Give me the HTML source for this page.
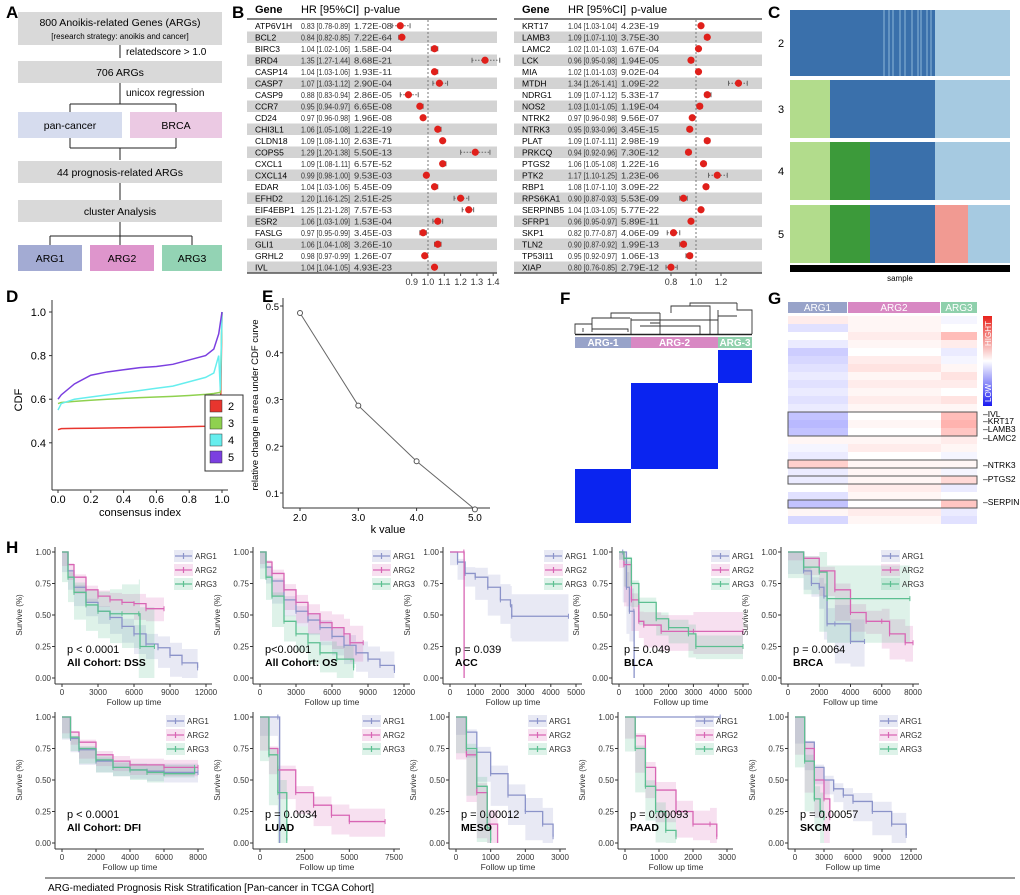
<!DOCTYPE html>
<html><head><meta charset="utf-8"><style>
html,body{margin:0;padding:0;background:#fff;}
svg{display:block;font-family:"Liberation Sans",sans-serif;}
</style></head><body>
<svg id="fig" width="1020" height="895" viewBox="0 0 1020 895" xmlns="http://www.w3.org/2000/svg">
<rect x="0" y="0" width="1020" height="895" fill="#fff"/>
<g font-weight="bold" font-size="17">
<text x="6" y="18">A</text>
<text x="232" y="18">B</text>
<text x="768" y="18">C</text>
<text x="6" y="302">D</text>
<text x="262" y="302">E</text>
<text x="560" y="304">F</text>
<text x="768" y="304">G</text>
<text x="6" y="553">H</text>
</g>
<g id="panelA" font-size="10.5" text-anchor="middle">
<rect x="18" y="12" width="204" height="33" fill="#d9d9d9"/>
<text x="120" y="26">800 Anoikis-related Genes (ARGs)</text>
<text x="120" y="39" font-size="8">[research strategy: anoikis and cancer]</text>
<line x1="120" y1="45" x2="120" y2="58" stroke="#222"/>
<text x="126" y="55" text-anchor="start" font-size="10">relatedscore &gt; 1.0</text>
<rect x="18" y="61" width="204" height="22" fill="#d9d9d9"/>
<text x="120" y="76">706 ARGs</text>
<path d="M120 83V104M70 104H176M70 104V112M176 104V112" stroke="#222" fill="none"/>
<text x="126" y="96" text-anchor="start" font-size="10">unicox regression</text>
<rect x="18" y="112" width="104" height="26" fill="#d6dcee"/>
<text x="70" y="129">pan-cancer</text>
<rect x="130" y="112" width="92" height="26" fill="#ebc9e3"/>
<text x="176" y="129">BRCA</text>
<path d="M70 138V148M176 138V148M70 148H176M120 148V160" stroke="#222" fill="none"/>
<rect x="18" y="161" width="204" height="22" fill="#d9d9d9"/>
<text x="120" y="176">44 prognosis-related ARGs</text>
<line x1="120" y1="183" x2="120" y2="200" stroke="#222"/>
<rect x="18" y="200" width="204" height="22" fill="#d9d9d9"/>
<text x="120" y="215">cluster Analysis</text>
<path d="M120 222V236M50 236H192M50 236V245M120 236V245M192 236V245" stroke="#222" fill="none"/>
<rect x="18" y="245" width="64" height="26" fill="#a3abd3"/>
<text x="50" y="262">ARG1</text>
<rect x="90" y="245" width="64" height="26" fill="#de95cc"/>
<text x="122" y="262">ARG2</text>
<rect x="162" y="245" width="60" height="26" fill="#93d3b4"/>
<text x="192" y="262">ARG3</text>
</g>
<g id="gB"></g>
<g id="gC"></g>
<g id="gD"></g>
<g id="gE"></g>
<g id="gF"></g>
<g id="gG"></g>
<g id="gH"></g>
<line x1="45" y1="878" x2="1015" y2="878" stroke="#333"/>
<text x="48" y="891" font-size="10">ARG-mediated Prognosis Risk Stratification [Pan-cancer in TCGA Cohort]</text>
</svg>
<script>
// ---------- Panel B data ----------
const genesL=["ATP6V1H","BCL2","BIRC3","BRD4","CASP14","CASP7","CASP9","CCR7","CD24","CHI3L1","CLDN18","COPS5","CXCL1","CXCL14","EDAR","EFHD2","EIF4EBP1","ESR2","FASLG","GLI1","GRHL2","IVL"];
const hrL=[0.83,0.84,1.04,1.35,1.04,1.07,0.88,0.95,0.97,1.06,1.09,1.29,1.09,0.99,1.04,1.20,1.25,1.06,0.97,1.06,0.98,1.04];
const loL=[0.78,0.82,1.02,1.27,1.03,1.03,0.83,0.94,0.96,1.05,1.08,1.20,1.08,0.98,1.03,1.16,1.21,1.03,0.95,1.04,0.97,1.04];
const hiL=[0.89,0.85,1.06,1.44,1.06,1.12,0.94,0.97,0.98,1.08,1.10,1.38,1.11,1.00,1.06,1.25,1.28,1.09,0.99,1.08,0.99,1.05];
const pL=["1.72E-08","7.22E-64","1.58E-04","8.68E-21","1.93E-11","2.90E-04","2.86E-05","6.65E-08","1.96E-08","1.22E-19","2.63E-71","5.50E-13","6.57E-52","9.53E-03","5.45E-09","2.51E-25","7.57E-53","1.53E-04","3.45E-03","3.26E-10","1.26E-07","4.93E-23"];
const genesR=["KRT17","LAMB3","LAMC2","LCK","MIA","MTDH","NDRG1","NOS2","NTRK2","NTRK3","PLAT","PRKCQ","PTGS2","PTK2","RBP1","RPS6KA1","SERPINB5","SFRP1","SKP1","TLN2","TP53I11","XIAP"];
const hrR=[1.04,1.09,1.02,0.96,1.02,1.34,1.09,1.03,0.97,0.95,1.09,0.94,1.06,1.17,1.08,0.90,1.04,0.96,0.82,0.90,0.95,0.80];
const loR=[1.03,1.07,1.01,0.95,1.01,1.26,1.07,1.01,0.96,0.93,1.07,0.92,1.05,1.10,1.07,0.87,1.03,0.95,0.77,0.87,0.92,0.76];
const hiR=[1.04,1.10,1.03,0.98,1.03,1.41,1.12,1.05,0.98,0.96,1.11,0.96,1.08,1.25,1.10,0.93,1.05,0.97,0.87,0.92,0.97,0.85];
const pR=["4.23E-19","3.75E-30","1.67E-04","1.94E-05","9.02E-04","1.09E-22","5.33E-17","1.19E-04","9.56E-07","3.45E-15","2.98E-19","7.30E-12","1.22E-16","1.23E-06","3.09E-22","5.53E-09","5.77E-22","5.89E-11","4.06E-09","1.99E-13","1.06E-13","2.79E-12"];
const ticksBL=[0.9,1.0,1.1,1.2,1.3,1.4];
const ticksBR=[0.8,1.0,1.2];
// ---------- Panel D/E data ----------
const cdfX=[0.0,0.02,0.1,0.2,0.3,0.4,0.5,0.6,0.7,0.8,0.9,0.95,0.98,0.99,1.0];
const cdfK2=[0.46,0.465,0.466,0.467,0.468,0.469,0.47,0.471,0.472,0.474,0.476,0.478,0.48,0.48,1.0];
const cdfK3=[0.58,0.585,0.59,0.595,0.6,0.604,0.607,0.61,0.613,0.617,0.622,0.626,0.63,0.63,1.0];
const cdfK4=[0.55,0.58,0.6,0.61,0.62,0.63,0.64,0.65,0.66,0.68,0.7,0.72,0.8,0.64,1.0];
const cdfK5=[0.6,0.62,0.67,0.71,0.725,0.735,0.745,0.75,0.76,0.78,0.8,0.83,0.9,0.95,1.0];
const kVals=[2,3,4,5];
const deltaArea=[0.485,0.287,0.168,0.065];
const cdfTicksY=[0.4,0.6,0.8,1.0];
const cdfTicksX=[0.0,0.2,0.4,0.6,0.8,1.0];
const eTicksY=[0.1,0.2,0.3,0.4,0.5];
const eTicksX=[2.0,3.0,4.0,5.0];
// ---------- Panel G data (row means per cluster) ----------
const heatRows=[[0.1,0.05,-0.05],[-0.15,0.05,0.0],[0.0,0.1,0.35],[-0.1,0.05,0.1],[-0.25,0.0,-0.1],[-0.2,0.1,-0.05],[-0.15,0.15,0.05],[-0.1,0.05,0.15],[-0.15,0.1,0.1],[-0.1,0.05,0.0],[-0.15,0.1,0.15],[-0.1,0.05,0.05],[-0.3,0.0,0.35],[-0.35,0.05,0.4],[-0.3,0.0,0.3],[0.05,0.05,0.1],[-0.05,0.1,0.05],[-0.1,0.0,-0.05],[0.25,0.05,0.05],[-0.1,0.05,-0.05],[-0.1,0.05,0.2],[0.0,0.1,-0.1],[-0.15,0.05,0.0],[-0.3,0.0,0.3],[0.05,0.1,-0.1],[-0.2,0.05,-0.15]];
// ---------- Panel H data ----------
const dssT1=[0,500,1000,2000,3000,4000,5000,6000,7000,8000,9000,10000,11300], dssS1=[1,0.85,0.72,0.6,0.53,0.48,0.41,0.35,0.27,0.24,0.18,0.12,0.08];
const dssT2=[0,500,1000,2000,3000,4000,5000,6000,7000,8500], dssS2=[1,0.9,0.8,0.7,0.65,0.62,0.6,0.59,0.55,0.55];
const dssT3=[0,500,1000,2000,3000,4000,5000,6400,6500,7700], dssS3=[1,0.8,0.68,0.58,0.53,0.51,0.51,0.51,0.25,0.25];
const osT1=[0,500,1000,2000,3000,4000,5000,6000,7000,8000,9000,10000,11200], osS1=[1,0.88,0.77,0.62,0.53,0.46,0.4,0.33,0.26,0.2,0.15,0.1,0.06];
const osT2=[0,500,1000,2000,3000,4000,5000,6000,7000,7500,8600], osS2=[1,0.92,0.83,0.7,0.6,0.51,0.44,0.4,0.35,0.28,0.28];
const osT3=[0,500,1000,2000,3000,4000,5000,6400,7800], osS3=[1,0.8,0.65,0.45,0.35,0.28,0.2,0.15,0.08];
const accT1=[0,300,600,1000,1500,2000,2400,2450,4700], accS1=[1,0.92,0.83,0.8,0.72,0.62,0.58,0.49,0.49];
const accT2=[0,550,560], accS2=[1,1,0];
const accT3=[], accS3=[];
const blcaT1=[0,150,300,420,600,610], blcaS1=[1,1,0.72,0.53,0.53,0];
const blcaT2=[0,200,500,800,1000,1700,3000,5000], blcaS2=[1,0.9,0.62,0.45,0.42,0.37,0.37,0.37];
const blcaT3=[0,200,500,800,1500,2000,2800,3100,5000], blcaS3=[1,0.95,0.75,0.6,0.47,0.4,0.35,0.25,0.25];
const brcaT1=[0,1000,1500,2000,2300,2500,3000,4000,4900], brcaS1=[1,0.85,0.75,0.72,0.65,0.43,0.43,0.29,0.29];
const brcaT2=[0,1000,2000,3000,4000,5000,6000,6500,7500,8000], brcaS2=[1,0.95,0.85,0.7,0.52,0.45,0.45,0.35,0.28,0.28];
const brcaT3=[0,1000,2000,2500,7800], brcaS3=[1,0.88,0.84,0.63,0.63];
const dfiT1=[0,500,1000,2000,3000,4000,5000,6000,8000], dfiS1=[1,0.83,0.74,0.65,0.6,0.58,0.57,0.56,0.56];
const dfiT2=[0,500,1000,2000,3000,4000,6000,8000], dfiS2=[1,0.88,0.8,0.7,0.65,0.62,0.6,0.6];
const dfiT3=[0,500,1000,2000,3000,4000,5000,6000,7800], dfiS3=[1,0.84,0.75,0.66,0.6,0.58,0.56,0.55,0.6];
const luadT1=[0,1000,1100], luadS1=[1,1,0];
const luadT2=[0,500,1000,2000,3000,4000,5000,7000], luadS2=[1,0.75,0.58,0.4,0.3,0.22,0.17,0.17];
const luadT3=[0,500,1000,1500], luadS3=[1,0.7,0.4,0.02];
const mesoT1=[0,300,600,1000,1500,2000,2500,2800], mesoS1=[1,0.88,0.72,0.55,0.38,0.25,0.15,0.05];
const mesoT2=[0,300,600,900,1200], mesoS2=[1,0.7,0.4,0.15,0];
const mesoT3=[0,300,600,900,1000], mesoS3=[1,0.75,0.45,0.12,0.02];
const paadT1=[0,2800], paadS1=[1,1];
const paadT2=[0,300,600,900,1500,2000,2500,2700], paadS2=[1,0.85,0.6,0.42,0.25,0.15,0.15,0.05];
const paadT3=[0,300,600,900,1200,1500], paadS3=[1,0.75,0.45,0.25,0.1,0.05];
const skcmT1=[0,1000,2000,3000,4000,5000,6000,8000,10000,11500], skcmS1=[1,0.8,0.6,0.5,0.43,0.38,0.33,0.25,0.15,0.06];
const skcmT2=[0,1000,2000,3000,3600], skcmS2=[1,0.75,0.5,0.35,0.2];
const skcmT3=[0,1000,2000,2600,3000], skcmS3=[1,0.65,0.35,0.25,0.2];
const pLabels=["p < 0.0001","p<0.0001","p = 0.039","p = 0.049","p = 0.0064","p < 0.0001","p = 0.0034","p = 0.00012","p = 0.00093","p = 0.00057"];
const cohortLabels=["All Cohort: DSS","All Cohort: OS","ACC","BLCA","BRCA","All Cohort: DFI","LUAD","MESO","PAAD","SKCM"];
const xTickSets=[[0,3000,6000,9000,12000],[0,3000,6000,9000,12000],[0,1000,2000,3000,4000,5000],[0,1000,2000,3000,4000,5000],[0,2000,4000,6000,8000],[0,2000,4000,6000,8000],[0,2500,5000,7500],[0,1000,2000,3000],[0,1000,2000,3000],[0,3000,6000,9000,12000]];
const survTicks=[0,0.25,0.5,0.75,1.0];
const survTickLabels=["0.00","0.25","0.50","0.75","1.00"];

const NS="http://www.w3.org/2000/svg";
function mk(parent,tag,attrs,txt){const e=document.createElementNS(NS,tag);for(const k in attrs)e.setAttribute(k,attrs[k]);if(txt!==undefined)e.textContent=txt;parent.appendChild(e);return e;}
function nm(e,name){


return e;}

// ---------- Panel B ----------
(function(){
const g=document.getElementById('gB');
function table(genes,hr,lo,hi,pv,ox,side,fx0,fx1,scale,ticks){
 const gx=ox, hx=ox+46, px=ox+99, rowH=11.5, y0=20;
 nm(mk(g,'text',{x:gx,y:13,'font-size':11,'font-weight':'bold'},'Gene'),'header-gene-'+side);
 nm(mk(g,'text',{x:hx,y:13,'font-size':11,textLength:58,lengthAdjust:'spacingAndGlyphs'},'HR [95%CI]'),'header-hr-'+side);
 nm(mk(g,'text',{x:px+10,y:13,'font-size':11},'p-value'),'header-pvalue-'+side);
 nm(mk(g,'line',{x1:gx-8,y1:19,x2:fx1,y2:19,stroke:'#555','stroke-width':1.5}),'top-rule-'+side);
 const xs=v=>fx0+(v-1)*scale;
 genes.forEach((gn,i)=>{
  const y=y0+i*rowH;
  if(i%2===1) nm(mk(g,'rect',{x:gx-8,y:y,width:fx1-gx+8,height:rowH,fill:'#d3d3d3'}),'row-band-'+gn);
  nm(mk(g,'text',{x:gx,y:y+9,'font-size':8.5},gn),'gene-'+gn);
  nm(mk(g,'text',{x:hx,y:y+9,'font-size':8.5,fill:'#333',textLength:49,lengthAdjust:'spacingAndGlyphs'},hr[i].toFixed(2)+' ['+lo[i].toFixed(2)+'-'+hi[i].toFixed(2)+']'),'hr-'+gn);
  nm(mk(g,'text',{x:px,y:y+9,'font-size':8.5,fill:'#333',textLength:38,lengthAdjust:'spacingAndGlyphs'},pv[i]),'pvalue-'+gn);
 });
 nm(mk(g,'line',{x1:xs(1),y1:20,x2:xs(1),y2:y0+genes.length*rowH,stroke:'#777','stroke-dasharray':'2,2'}),'reference-line-'+side);
 genes.forEach((gn,i)=>{
  const y=y0+i*rowH+rowH/2;
  nm(mk(g,'line',{x1:xs(lo[i]),y1:y,x2:xs(hi[i]),y2:y,stroke:'#666','stroke-dasharray':'1.5,1.5'}),'ci-'+gn);
  nm(mk(g,'path',{d:`M${xs(lo[i])} ${y-2.5}V${y+2.5}M${xs(hi[i])} ${y-2.5}V${y+2.5}`,stroke:'#666'}),'ci-caps-'+gn);
  nm(mk(g,'circle',{cx:xs(hr[i]),cy:y,r:3.6,fill:'#e0201b'}),'hr-point-'+gn);
 });
 const yb=y0+genes.length*rowH;
 nm(mk(g,'line',{x1:gx-8,y1:yb,x2:fx1,y2:yb,stroke:'#555','stroke-width':1.5}),'bottom-rule-'+side);
 ticks.forEach(t=>{
  nm(mk(g,'line',{x1:xs(t),y1:yb,x2:xs(t),y2:yb+3,stroke:'#555'}),'tick-'+side);
  nm(mk(g,'text',{x:xs(t),y:yb+12,'font-size':9,'text-anchor':'middle',fill:'#333'},t.toFixed(1)),'tick-label-'+side);
 });
}
table(genesL,hrL,loL,hiL,pL,255,'left',428,497,163,ticksBL);
table(genesR,hrR,loR,hiR,pR,522,'right',696,762,125,ticksBR);
})();

// ---------- Panel C ----------
(function(){
const g=document.getElementById('gC');
const dB='#3a70ab', lB='#a6cae1', lG='#b2dc8c', dG='#3c9a3a', sal='#f19a92';
const rows=[{y:10,h:66,seg:[[790,880,dB],[880,935,dB],[935,1010,lB]]},
 {y:80,h:58,seg:[[790,830,lG],[830,935,dB],[935,1010,lB]]},
 {y:142,h:58,seg:[[790,830,lG],[830,870,dG],[870,935,dB],[935,1010,lB]]},
 {y:205,h:58,seg:[[790,830,lG],[830,870,dG],[870,935,dB],[935,968,sal],[968,1010,lB]]}];
rows.forEach((r,i)=>{
 r.seg.forEach(s=>nm(mk(g,'rect',{x:s[0],y:r.y,width:s[1]-s[0],height:r.h,fill:s[2]}),'k'+(i+2)+'-cluster-segment'));
 nm(mk(g,'text',{x:778,y:r.y+r.h/2+4,'font-size':11},String(i+2)),'k-label-'+(i+2));
});
[884,889,893,900,905,912,918,921,927,931].forEach(x=>nm(mk(g,'line',{x1:x,y1:10,x2:x,y2:76,stroke:'#8fb7d8','stroke-width':1}),'k2-stripe'));
nm(mk(g,'rect',{x:790,y:265,width:220,height:7,fill:'#000'}),'sample-bar');
nm(mk(g,'text',{x:900,y:281,'font-size':8,'text-anchor':'middle'},'sample'),'sample-label');
})();

// ---------- Panel D ----------
(function(){
const g=document.getElementById('gD');
const X=v=>58+v*164, Y=v=>312+(1-v)*218;
nm(mk(g,'line',{x1:52,y1:300,x2:52,y2:490,stroke:'#333'}),'y-axis');
nm(mk(g,'line',{x1:52,y1:490,x2:228,y2:490,stroke:'#333'}),'x-axis');
cdfTicksY.forEach(t=>{nm(mk(g,'line',{x1:49,y1:Y(t),x2:52,y2:Y(t),stroke:'#333'}),'y-tick');nm(mk(g,'text',{x:46,y:Y(t)+4,'font-size':11,'text-anchor':'end'},t.toFixed(1)),'y-tick-label');});
cdfTicksX.forEach(t=>{nm(mk(g,'line',{x1:X(t),y1:490,x2:X(t),y2:493,stroke:'#333'}),'x-tick');nm(mk(g,'text',{x:X(t),y:503,'font-size':11,'text-anchor':'middle'},t.toFixed(1)),'x-tick-label');});
nm(mk(g,'text',{x:140,y:516,'font-size':11,'text-anchor':'middle'},'consensus index'),'x-axis-title');
nm(mk(g,'text',{x:22,y:400,'font-size':11,'text-anchor':'middle',transform:'rotate(-90 22 400)'},'CDF'),'y-axis-title');
const series=[[cdfK2,'#e8352e','2'],[cdfK3,'#8fd14f','3'],[cdfK4,'#66eeee','4'],[cdfK5,'#7b3fe0','5']];
series.forEach(s=>{nm(mk(g,'path',{d:'M'+cdfX.map((x,i)=>X(x)+' '+Y(s[0][i])).join('L'),fill:'none',stroke:s[1],'stroke-width':1.5}),'cdf-line-k'+s[2]);});
nm(mk(g,'rect',{x:205,y:395,width:38,height:76,fill:'#fff',stroke:'#333'}),'legend-box');
series.forEach((s,i)=>{nm(mk(g,'rect',{x:210,y:400+i*17,width:12,height:12,fill:s[1],stroke:'#333','stroke-width':0.5}),'legend-swatch-k'+s[2]);nm(mk(g,'text',{x:228,y:410+i*17,'font-size':11},s[2]),'legend-label-k'+s[2]);});
})();

// ---------- Panel E ----------
(function(){
const g=document.getElementById('gE');
const X=k=>300+(k-2)*58.3, Y=v=>306+(0.5-v)*467.5;
nm(mk(g,'line',{x1:283,y1:298,x2:283,y2:508,stroke:'#333'}),'y-axis');
nm(mk(g,'line',{x1:283,y1:508,x2:490,y2:508,stroke:'#333'}),'x-axis');
eTicksY.forEach(t=>{nm(mk(g,'line',{x1:280,y1:Y(t),x2:283,y2:Y(t),stroke:'#333'}),'y-tick');nm(mk(g,'text',{x:279,y:Y(t)+4,'font-size':9.5,'text-anchor':'end'},t.toFixed(1)),'y-tick-label');});
eTicksX.forEach(t=>{nm(mk(g,'line',{x1:X(t),y1:508,x2:X(t),y2:511,stroke:'#333'}),'x-tick');nm(mk(g,'text',{x:X(t),y:521,'font-size':10,'text-anchor':'middle'},t.toFixed(1)),'x-tick-label');});
nm(mk(g,'text',{x:388,y:533,'font-size':11,'text-anchor':'middle'},'k value'),'x-axis-title');
nm(mk(g,'text',{x:258,y:405,'font-size':9.5,'text-anchor':'middle',transform:'rotate(-90 258 405)'},'relative change in area under CDF curve'),'y-axis-title');
nm(mk(g,'path',{d:'M'+kVals.map((k,i)=>X(k)+' '+Y(deltaArea[i])).join('L'),fill:'none',stroke:'#666'}),'delta-line');
kVals.forEach((k,i)=>nm(mk(g,'circle',{cx:X(k),cy:Y(deltaArea[i]),r:2.5,fill:'#fff',stroke:'#555'}),'delta-point-k'+k));
})();

// ---------- Panel F ----------
(function(){
const g=document.getElementById('gF');
const d='M575 334V324H592V332M583 332V328M592 329H628V332M592 329V318H630M611 318V313H660M660 313V334M631 318V334M631 320H718V334M640 326H700V334M650 323H660M671 313V306H710V334M690 306V303H737M737 303V310H752V334M718 310V334M718 316H737';
nm(mk(g,'path',{d:d,fill:'none',stroke:'#333','stroke-width':0.9}),'dendrogram');
nm(mk(g,'line',{x1:575,y1:334.5,x2:752,y2:334.5,stroke:'#222','stroke-width':1.5}),'dendrogram-base');
const bars=[[575,631,'#98a3c9','ARG-1'],[631,718,'#d888c3','ARG-2'],[718,752,'#8fd0ac','ARG-3']];
bars.forEach(b=>{nm(mk(g,'rect',{x:b[0],y:337,width:b[1]-b[0],height:11,fill:b[2]}),'cluster-bar-'+b[3]);nm(mk(g,'text',{x:(b[0]+b[1])/2,y:346,'font-size':10,'font-weight':'bold',fill:'#fff','text-anchor':'middle'},b[3]),'cluster-label-'+b[3]);});
nm(mk(g,'rect',{x:718,y:350,width:34,height:33,fill:'#0a24f0'}),'block-arg3');
nm(mk(g,'rect',{x:631,y:383,width:87,height:86,fill:'#0a24f0'}),'block-arg2');
nm(mk(g,'rect',{x:575,y:469,width:56,height:54,fill:'#0a24f0'}),'block-arg1');
})();

// ---------- Panel G ----------
(function(){
const g=document.getElementById('gG');
const cols=[[788,847,'#98a3c9','ARG1'],[848,940,'#d888c3','ARG2'],[941,977,'#8fd0ac','ARG3']];
cols.forEach(c=>{nm(mk(g,'rect',{x:c[0],y:302,width:c[1]-c[0],height:11,fill:c[2]}),'group-bar-'+c[3]);nm(mk(g,'text',{x:(c[0]+c[1])/2,y:311,'font-size':10,fill:'#fff','text-anchor':'middle'},c[3]),'group-label-'+c[3]);});
function col(v){const a=Math.min(1,Math.abs(v));if(v>=0){return `rgb(255,${Math.round(255-a*190)},${Math.round(255-a*200)})`;}return `rgb(${Math.round(255-a*200)},${Math.round(255-a*200)},255)`;}
const rh=8,y0=316;
heatRows.forEach((r,i)=>{cols.forEach((c,j)=>nm(mk(g,'rect',{x:c[0],y:y0+i*rh,width:c[1]-c[0]+(j<2?1:0),height:rh,fill:col(r[j])}),'heat-cell'));});
[[12,3],[18,1],[20,1],[23,1]].forEach(b=>nm(mk(g,'rect',{x:788,y:y0+b[0]*rh,width:189,height:b[1]*rh,fill:'none',stroke:'#555'}),'highlight-box'));
const defs=mk(g,'defs',{});
const lg=mk(defs,'linearGradient',{id:'cbar',x1:0,y1:0,x2:0,y2:1});
mk(lg,'stop',{offset:'0','stop-color':'#e8221b'});mk(lg,'stop',{offset:'0.5','stop-color':'#ffffff'});mk(lg,'stop',{offset:'1','stop-color':'#1a1af0'});
nm(mk(g,'rect',{x:983,y:316,width:9,height:90,fill:'url(#cbar)'}),'colorbar');
nm(mk(g,'text',{x:991,y:346,'font-size':8,fill:'#fff',transform:'rotate(-90 991 346)'},'HIGHT'),'colorbar-high-label');
nm(mk(g,'text',{x:991,y:402,'font-size':8,fill:'#fff',transform:'rotate(-90 991 402)'},'LOW'),'colorbar-low-label');
[['IVL',417],['KRT17',424],['LAMB3',432],['LAMC2',441],['NTRK3',468],['PTGS2',482],['SERPINB',505]].forEach(l=>{nm(mk(g,'text',{x:983,y:l[1],'font-size':8.5},'–'+l[0]),'gene-label-'+l[0]);});
})();

// ---------- Panel H ----------
(function(){
const g=document.getElementById('gH');
const COL=['#8b93c9','#d865b4','#5cbf91'];
const plots=[
 {x0:62,x1:206,xm:12000,r:0,d:[[dssT1,dssS1,0.12],[dssT2,dssS2,0.1],[dssT3,dssS3,0.35]]},
 {x0:260,x1:404,xm:12000,r:0,d:[[osT1,osS1,0.12],[osT2,osS2,0.15],[osT3,osS3,0.12]]},
 {x0:450,x1:576,xm:5000,r:0,d:[[accT1,accS1,0.2],[accT2,accS2,0],[accT3,accS3,0]]},
 {x0:619,x1:743,xm:5000,r:0,d:[[blcaT1,blcaS1,0.3],[blcaT2,blcaS2,0.18],[blcaT3,blcaS3,0.1]]},
 {x0:788,x1:913,xm:8000,r:0,d:[[brcaT1,brcaS1,0.2],[brcaT2,brcaS2,0.15],[brcaT3,brcaS3,0.35]]},
 {x0:62,x1:198,xm:8000,r:1,d:[[dfiT1,dfiS1,0.08],[dfiT2,dfiS2,0.07],[dfiT3,dfiS3,0.08]]},
 {x0:260,x1:394,xm:7500,r:1,d:[[luadT1,luadS1,0.3],[luadT2,luadS2,0.12],[luadT3,luadS3,0.15]]},
 {x0:456,x1:560,xm:3000,r:1,d:[[mesoT1,mesoS1,0.15],[mesoT2,mesoS2,0.15],[mesoT3,mesoS3,0.15]]},
 {x0:625,x1:727,xm:3000,r:1,d:[[paadT1,paadS1,0.0],[paadT2,paadS2,0.15],[paadT3,paadS3,0.12]]},
 {x0:795,x1:911,xm:12000,r:1,d:[[skcmT1,skcmS1,0.1],[skcmT2,skcmS2,0.2],[skcmT3,skcmS3,0.2]]}];
plots.forEach((p,pi)=>{
 const yt=p.r?717:552, yb=p.r?843:678;
 const X=t=>p.x0+t/p.xm*(p.x1-p.x0), Y=s=>yb-s*(yb-yt);
 const pg=nm(mk(g,'g',{}),'survival-plot-'+cohortLabels[pi].replace(/[^A-Za-z]/g,'').toLowerCase());
 p.d.forEach((sr,k)=>{const T=sr[0],S=sr[1],c=sr[2];if(!T.length||!c)return;
  const n=T.length;const up=[],lo=[];
  for(let i=0;i<n;i++){const w=c*i/(n-1);up.push([T[i],Math.min(1,S[i]+w)]);lo.push([T[i],Math.max(0,S[i]-w)]);}
  let d='M'+X(up[0][0])+' '+Y(up[0][1]);
  for(let i=1;i<n;i++)d+='H'+X(up[i][0])+'V'+Y(up[i][1]);
  for(let i=n-1;i>0;i--)d+='V'+Y(lo[i][1])+'H'+X(lo[i-1][0]);
  d+='V'+Y(lo[0][1])+'Z';
  nm(mk(pg,'path',{d:d,fill:COL[k],'fill-opacity':0.2,stroke:'none'}),'ci-band-arg'+(k+1));
 });
 p.d.forEach((sr,k)=>{const T=sr[0],S=sr[1];if(!T.length)return;
  let d='M'+X(T[0])+' '+Y(S[0]);
  for(let i=1;i<T.length;i++)d+='H'+X(T[i])+'V'+Y(S[i]);
  nm(mk(pg,'path',{d:d,fill:'none',stroke:COL[k],'stroke-width':1.3}),'survival-curve-arg'+(k+1));
  let m='';for(let i=1;i<T.length;i++){if(S[i]>0.01)m+='M'+X(T[i])+' '+(Y(S[i])-2.5)+'V'+(Y(S[i])+2.5);}
  if(m)nm(mk(pg,'path',{d:m,stroke:COL[k],'stroke-width':1}),'censor-marks-arg'+(k+1));
 });
 nm(mk(pg,'line',{x1:p.x0-7,y1:yt-5,x2:p.x0-7,y2:yb+6,stroke:'#333'}),'y-axis');
 nm(mk(pg,'line',{x1:p.x0-7,y1:yb+6,x2:p.x1+6,y2:yb+6,stroke:'#333'}),'x-axis');
 survTicks.forEach((t,i)=>{nm(mk(pg,'line',{x1:p.x0-10,y1:Y(t),x2:p.x0-7,y2:Y(t),stroke:'#333'}),'y-tick');nm(mk(pg,'text',{x:p.x0-11,y:Y(t)+3,'font-size':8,'text-anchor':'end',fill:'#333'},survTickLabels[i]),'y-tick-label');});
 xTickSets[pi].forEach(t=>{nm(mk(pg,'line',{x1:X(t),y1:yb+6,x2:X(t),y2:yb+9,stroke:'#333'}),'x-tick');nm(mk(pg,'text',{x:X(t),y:yb+17,'font-size':8,'text-anchor':'middle',fill:'#333'},String(t)),'x-tick-label');});
 nm(mk(pg,'text',{x:(p.x0+p.x1)/2,y:yb+27,'font-size':8.5,'text-anchor':'middle',fill:'#333'},'Follow up time'),'x-axis-title');
 const ly=(yt+yb)/2;
 nm(mk(pg,'text',{x:p.x0-40,y:ly,'font-size':8,'text-anchor':'middle',fill:'#333',transform:`rotate(-90 ${p.x0-40} ${ly})`},'Survive (%)'),'y-axis-title');
 nm(mk(pg,'text',{x:p.x0+5,y:Y(0.2),'font-size':11},pLabels[pi]),'p-value-label');
 nm(mk(pg,'text',{x:p.x0+5,y:Y(0.2)+13,'font-size':10.5,'font-weight':'bold'},cohortLabels[pi]),'cohort-label');
 const lx=p.x1-31;
 ['ARG1','ARG2','ARG3'].forEach((a,k)=>{const yy=yt+4+k*14;
  nm(mk(pg,'rect',{x:lx-1,y:yy-6,width:19,height:12,fill:COL[k],'fill-opacity':0.2}),'legend-key-bg-'+a);
  nm(mk(pg,'path',{d:`M${lx} ${yy}H${lx+17}M${lx+8.5} ${yy-3}V${yy+3}`,stroke:COL[k],'stroke-width':1.2}),'legend-key-'+a);
  nm(mk(pg,'text',{x:lx+20,y:yy+3,'font-size':8,fill:'#333'},a),'legend-label-'+a);
 });
});
})();
</script>
</body></html>
